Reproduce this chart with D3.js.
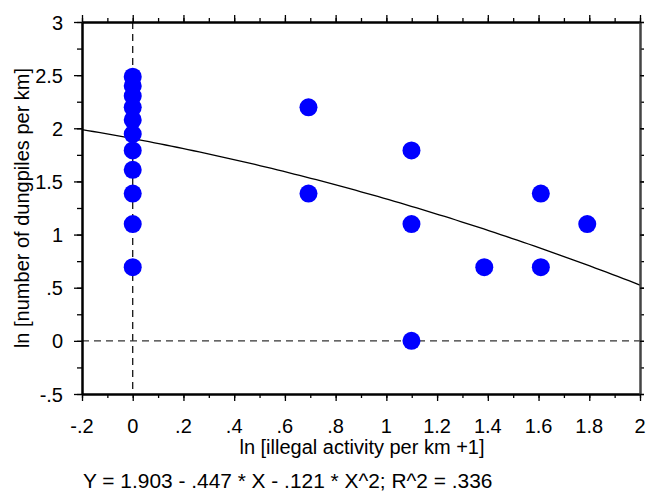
<!DOCTYPE html>
<html><head><meta charset="utf-8">
<script src="https://cdn.jsdelivr.net/npm/d3@7"></script>
<style>body{margin:0;background:#fff}svg{display:block}text{font-family:"Liberation Sans",Arial,sans-serif;fill:#000}</style>
</head><body>
<script>
// data: ln(illegal activity per km +1) vs ln(number of dungpiles per km)
const xValues = [0,0,0,0,0,0,0,0,0,0,0, 0.693,0.693, 1.099,1.099,1.099, 1.386, 1.609,1.609, 1.792];
const yValues = [2.485,2.398,2.303,2.197,2.079,1.946,1.792,1.609,1.386,1.099,0.693, 2.197,1.386, 1.792,1.099,0, 0.693, 1.386,0.693, 1.099];
const fitCoefs = [1.903, -0.447, -0.121];
const xTicks = [-0.2,0,0.2,0.4,0.6,0.8,1,1.2,1.4,1.6,1.8,2];
const xTickLabels = ["-.2","0",".2",".4",".6",".8","1","1.2","1.4","1.6","1.8","2"];
const yTicks = [-0.5,0,0.5,1,1.5,2,2.5,3];
const yTickLabels = ["-.5","0",".5","1","1.5","2","2.5","3"];
const xTitle = "ln [illegal activity per km +1]";
const yTitle = "ln [number of dungpiles per km]";
const equation = "Y = 1.903 - .447 * X - .121 * X^2; R^2 = .336";

const W = 646, H = 491;
const L = 82, R = 640, T = 22, B = 394;
const svg = d3.select("body").append("svg").attr("width", W).attr("height", H);
const x = d3.scaleLinear().domain([-0.2, 2]).range([L, R]);
const y = d3.scaleLinear().domain([-0.5, 3]).range([B, T]);

const xMinor = d3.range(-0.2, 2.0001, 0.1).map(v => +v.toFixed(2));
const yMinor = d3.range(-0.5, 3.0001, 0.25).map(v => +v.toFixed(2));
const fs = 20;

// dashed reference lines
svg.append("line").attr("x1", x(0)).attr("x2", x(0)).attr("y1", T).attr("y2", B)
  .attr("stroke", "#000").attr("stroke-width", 1.2).attr("stroke-dasharray", "7,5");
svg.append("line").attr("x1", L).attr("x2", R).attr("y1", y(0)).attr("y2", y(0))
  .attr("stroke", "#333").attr("stroke-width", 1.2).attr("stroke-dasharray", "7,5");

// fit curve
const xs = d3.range(0, 101).map(i => -0.2 + 2.2 * i / 100);
const line = d3.line().x(d => x(d)).y(d => y(fitCoefs[0] + fitCoefs[1]*d + fitCoefs[2]*d*d));
svg.append("path").datum(xs).attr("d", line).attr("fill", "none").attr("stroke", "#000").attr("stroke-width", 1.3);

// points
svg.append("g").selectAll("circle").data(xValues.map((v, i) => [v, yValues[i]])).join("circle")
  .attr("cx", d => x(d[0])).attr("cy", d => y(d[1])).attr("r", 9).attr("fill", "#0000ff");

// axes
function axisGroup(axisFn, scale, ticks, size, transform) {
  const g = svg.append("g").attr("transform", transform)
    .call(axisFn(scale).tickValues(ticks).tickSize(size).tickSizeOuter(0).tickFormat(""));
  g.select(".domain").attr("stroke", "#000").attr("stroke-width", 2);
  g.selectAll(".tick line").attr("stroke", "#000").attr("stroke-width", 1.3);
  return g;
}
// minor
axisGroup(d3.axisBottom, x, xMinor, 4, `translate(0,${B})`);
axisGroup(d3.axisTop, x, xMinor, 4, `translate(0,${T})`);
axisGroup(d3.axisLeft, y, yMinor, 5, `translate(${L},0)`);
axisGroup(d3.axisRight, y, yMinor, 4, `translate(${R},0)`).select(".domain").attr("stroke", "#444");
// major
axisGroup(d3.axisBottom, x, xTicks, 7, `translate(0,${B})`);
axisGroup(d3.axisTop, x, xTicks, 7, `translate(0,${T})`);
axisGroup(d3.axisLeft, y, yTicks, 8, `translate(${L},0)`);
axisGroup(d3.axisRight, y, yTicks, 4, `translate(${R},0)`).select(".domain").attr("stroke", "#444");

// tick labels
svg.append("g").selectAll("text").data(xTicks).join("text")
  .attr("x", d => x(d)).attr("y", 433).attr("text-anchor", "middle").attr("font-size", fs)
  .text((d, i) => xTickLabels[i]);
svg.append("g").selectAll("text").data(yTicks).join("text")
  .attr("x", 63).attr("y", d => y(d) + 7.5).attr("text-anchor", "end").attr("font-size", fs)
  .text((d, i) => yTickLabels[i]);

// titles
svg.append("text").attr("x", 362).attr("y", 454).attr("text-anchor", "middle").attr("font-size", fs).text(xTitle);
svg.append("text").attr("transform", `translate(29,${(T + B) / 2}) rotate(-90)`)
  .attr("text-anchor", "middle").attr("font-size", fs).text(yTitle);
svg.append("text").attr("x", 83).attr("y", 488).attr("font-size", 20.9).text(equation);
</script>
</body></html>
